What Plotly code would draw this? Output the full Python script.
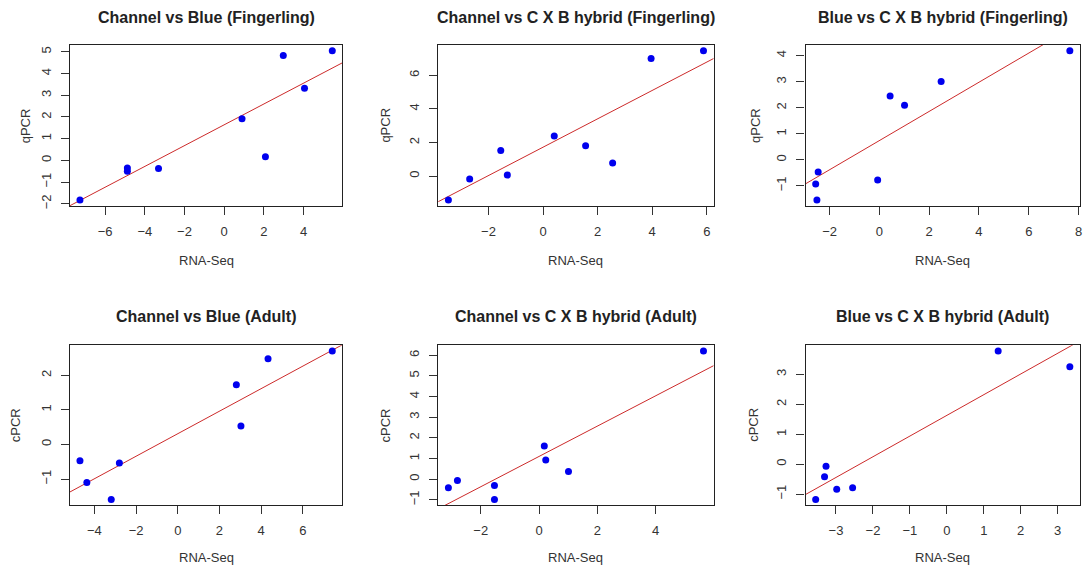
import plotly.graph_objects as go

# ---- data ----
titles = [
    "Channel vs Blue (Fingerling)",
    "Channel vs C X B hybrid (Fingerling)",
    "Blue vs C X B hybrid (Fingerling)",
    "Channel vs Blue (Adult)",
    "Channel vs C X B hybrid (Adult)",
    "Blue vs C X B hybrid (Adult)",
]
y_titles = ["qPCR", "qPCR", "qPCR", "cPCR", "cPCR", "cPCR"]
x_title = "RNA-Seq"

rnaseq_cb_fing = [-7.27, -4.88, -4.88, -3.31, 0.90, 2.08, 2.98, 4.05, 5.45]
qpcr_cb_fing = [-1.82, -0.35, -0.50, -0.37, 1.92, 0.17, 4.83, 3.32, 5.05]

rnaseq_cx_fing = [-3.47, -2.69, -1.55, -1.31, 0.41, 1.56, 2.55, 3.96, 5.88]
qpcr_cx_fing = [-1.42, -0.18, 1.52, 0.06, 2.38, 1.80, 0.78, 7.00, 7.46]

rnaseq_bx_fing = [-2.56, -2.51, -2.46, -0.07, 0.43, 1.01, 2.48, 7.65]
qpcr_bx_fing = [-0.93, -1.54, -0.47, -0.77, 2.45, 2.10, 3.01, 4.19]

rnaseq_cb_adult = [-4.69, -4.36, -3.19, -2.80, 2.81, 3.03, 4.33, 7.41]
qpcr_cb_adult = [-0.47, -1.10, -1.59, -0.54, 1.73, 0.53, 2.48, 2.70]

rnaseq_cx_adult = [-3.11, -2.80, -1.53, -1.53, 0.18, 0.23, 1.01, 5.64]
qpcr_cx_adult = [-0.42, -0.06, -0.31, -0.98, 1.61, 0.93, 0.37, 6.20]

rnaseq_bx_adult = [-3.55, -3.31, -3.27, -2.98, -2.55, 1.39, 3.33]
qpcr_bx_adult = [-1.18, -0.42, -0.07, -0.84, -0.79, 3.78, 3.26]

# regression lines (intercept, slope) as drawn in the reference
fit_intercepts = [1.64, 1.72, 0.74, 0.31, 1.10, 1.63]
fit_slopes = [0.479, 0.844, 0.56, 0.326, 0.734, 0.692]

x_dticks = [2, 2, 2, 2, 2, 1]
y_dticks = [1, 2, 1, 1, 1, 1]

xs = [rnaseq_cb_fing, rnaseq_cx_fing, rnaseq_bx_fing,
      rnaseq_cb_adult, rnaseq_cx_adult, rnaseq_bx_adult]
ys = [qpcr_cb_fing, qpcr_cx_fing, qpcr_bx_fing,
      qpcr_cb_adult, qpcr_cx_adult, qpcr_bx_adult]

# ---- layout ----
W, H = 1083, 570
box_x = [(70, 343), (439, 715), (807, 1082)]
box_y = [(45, 207), (347, 508)]
ylab_x = [[25, 386, 757], [15, 386, 755]]
title_y = [18, 318]
xlab_y = [262, 560]

FONT = "Liberation Sans, Arial, Helvetica, sans-serif"

fig = go.Figure()
annotations = []

def pad_range(v):
    lo, hi = min(v), max(v)
    p = (hi - lo) * 0.04
    return [lo - p, hi + p]

for i in range(6):
    r, c = divmod(i, 3)
    n = i + 1
    xa = "x" if n == 1 else f"x{n}"
    ya = "y" if n == 1 else f"y{n}"
    xr = pad_range(xs[i])
    yr = pad_range(ys[i])

    fig.add_trace(go.Scatter(
        x=[xr[0], xr[1]],
        y=[fit_intercepts[i] + fit_slopes[i] * xr[0],
           fit_intercepts[i] + fit_slopes[i] * xr[1]],
        mode="lines", line=dict(color="#cc2a2a", width=1),
        xaxis=xa, yaxis=ya, showlegend=False, hoverinfo="skip"))
    fig.add_trace(go.Scatter(
        x=xs[i], y=ys[i], mode="markers",
        marker=dict(color="#0000ee", size=7, line=dict(width=0)),
        xaxis=xa, yaxis=ya, showlegend=False, cliponaxis=False))

    x0, x1 = box_x[c]
    y0, y1 = box_y[r]
    axis_common = dict(
        showgrid=False, zeroline=False, showline=True, mirror=True,
        linecolor="#222222", linewidth=1.2, ticks="outside", ticklen=8,
        tickcolor="#333333", tickwidth=1,
        tickfont=dict(family=FONT, size=13, color="#333333"),
        tick0=0, ticklabeloverflow="allow",
    )
    fig.layout[f"xaxis{'' if n == 1 else n}"] = dict(
        axis_common, domain=[x0 / W, x1 / W], range=xr, dtick=x_dticks[i],
        anchor=ya, ticklabelstandoff=5)
    fig.layout[f"yaxis{'' if n == 1 else n}"] = dict(
        axis_common, domain=[1 - y1 / H, 1 - y0 / H], range=yr,
        dtick=y_dticks[i], anchor=xa, tickangle=-90, ticklabelstandoff=5)

    cx = (x0 + x1) / 2 / W
    annotations.append(dict(
        text=f"<b>{titles[i]}</b>", x=cx, y=1 - title_y[r] / H,
        xref="paper", yref="paper", showarrow=False,
        xanchor="center", yanchor="middle",
        font=dict(family=FONT, size=16, color="#222222")))
    annotations.append(dict(
        text=x_title, x=cx, y=1 - xlab_y[r] / H,
        xref="paper", yref="paper", showarrow=False,
        xanchor="center", yanchor="middle",
        font=dict(family=FONT, size=13, color="#333333")))
    annotations.append(dict(
        text=y_titles[i], x=ylab_x[r][c] / W, y=1 - (y0 + y1) / 2 / H,
        xref="paper", yref="paper", showarrow=False, textangle=-90,
        xanchor="center", yanchor="middle",
        font=dict(family=FONT, size=13, color="#333333")))

fig.update_layout(
    width=W, height=H, margin=dict(l=0, r=0, t=0, b=0),
    paper_bgcolor="white", plot_bgcolor="white",
    annotations=annotations,
)

fig.write_html(
    "out.html",
    config={"displayModeBar": False},
    post_script="document.body.style.margin='0';document.body.style.overflow='hidden';",
)
